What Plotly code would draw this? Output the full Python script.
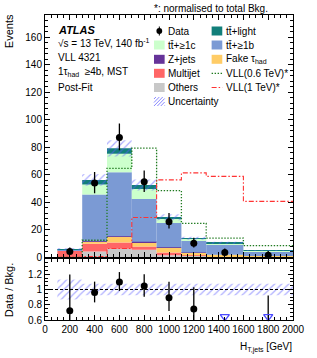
import plotly.graph_objects as go
import numpy as np

# ---------------- data ----------------
edges = [100, 300, 500, 700, 900, 1100, 1300, 1600, 2000]
others   = [0.2, 4.4, 6.3, 5.6, 1.7, 1.2, 0.5, 0.2]
multijet = [4.6, 5.6, 4.6, 2.4, 1.9, 0.4, 0.2, 0.1]
fake_tau = [0.1, 1.6, 4.2, 3.2, 3.7, 2.0, 1.2, 0.8]
zjets    = [0.0, 0.2, 0.3, 0.2, 0.1, 0.1, 0.0, 0.0]
tt_1b    = [0.8, 34.0, 46.4, 31.0, 17.6, 8.7, 7.8, 3.3]
tt_1c    = [0.2, 7.2, 13.4, 7.3, 3.0, 1.3, 0.8, 0.6]
tt_light = [0.2, 3.2, 4.0, 2.9, 1.2, 0.3, 0.2, 0.1]
unc_rel  = [0.13, 0.075, 0.075, 0.075, 0.075, 0.075, 0.075, 0.075]
data_x   = [200, 400, 600, 800, 1000, 1200, 1450, 1800]
data     = [4.4, 54, 87, 55, 26, 10.4, 3.6, 1.7]
data_up  = [2.9, 8.0, 10.3, 8.1, 6.2, 4.0, 3.0, 3.0]
data_dn  = [1.9, 7.3, 9.2, 7.4, 5.0, 3.2, 1.9, 1.3]
vll_06   = [0.0, 12.5, 64.7, 79.3, 48.5, 24.8, 14.1, 8.6]
vll_1    = [0.0, 0.7, 6.5, 29.0, 56.3, 61.4, 58.9, 40.7]

x_ticks = list(range(0, 2001, 200))
y_ticks = list(range(0, 161, 20))
r_ticks = [0.6, 0.8, 1.0, 1.2]

# ---------------- geometry helpers ----------------
W, H = 317, 358
L, R, T, B = 45, 16, 15, 38
PW, PH = W - L - R, H - T - B
def px(x): return (x - L) / PW
def py(y): return (H - B - y) / PH

edges_a = np.array(edges, dtype=float)
centers = (edges_a[:-1] + edges_a[1:]) / 2
widths = np.diff(edges_a)

comps = [
    ("Others", others, "#c8c8c8"),
    ("Multijet", multijet, "#ff6666"),
    ("Fake", fake_tau, "#ffcc66"),
    ("Z+jets", zjets, "#663399"),
    ("tt1b", tt_1b, "#7b9ad4"),
    ("tt1c", tt_1c, "#ccffcc"),
    ("ttlight", tt_light, "#127f7a"),
]

DOT = "1.4px,1.6px"
DASHDOT = "5px,2px,1.5px,2px"

fig = go.Figure()
base = np.zeros(len(centers))
for name, vals, col in comps:
    v = np.array(vals, dtype=float)
    fig.add_trace(go.Bar(x=centers, y=v, base=base, width=widths,
                         marker=dict(color=col, line=dict(width=0)),
                         showlegend=False, xaxis="x", yaxis="y"))
    base = base + v
total = base
unc = total * np.array(unc_rel)

hatch = dict(shape="/", fgcolor="#5b5bff", bgcolor="rgba(0,0,0,0)", size=5, solidity=0.25)
fig.add_trace(go.Bar(x=centers, y=2 * unc, base=total - unc, width=widths,
                     marker=dict(color="rgba(0,0,0,0)", line=dict(width=0), pattern=hatch),
                     showlegend=False, xaxis="x", yaxis="y"))

# VLL step lines
fig.add_trace(go.Scatter(x=edges, y=vll_06 + [vll_06[-1]], mode="lines", line_shape="hv",
                         line=dict(color="#1f7a1f", dash=DOT, width=1.3),
                         showlegend=False, xaxis="x", yaxis="y"))
fig.add_trace(go.Scatter(x=edges, y=vll_1 + [vll_1[-1]], mode="lines", line_shape="hv",
                         line=dict(color="#ff3333", dash=DASHDOT, width=1.1),
                         showlegend=False, xaxis="x", yaxis="y"))

# data
fig.add_trace(go.Scatter(x=data_x, y=data, mode="markers",
                         marker=dict(color="black", size=7),
                         error_y=dict(type="data", array=data_up, arrayminus=data_dn,
                                      color="black", thickness=1.3, width=0),
                         showlegend=False, xaxis="x", yaxis="y"))

# ---------------- ratio ----------------
fig.add_trace(go.Bar(x=centers, y=2 * np.array(unc_rel), base=1 - np.array(unc_rel), width=widths,
                     marker=dict(color="rgba(0,0,0,0)", line=dict(width=0), pattern=hatch),
                     showlegend=False, xaxis="x2", yaxis="y2"))
ratio = np.array(data) / total
r_up = np.array(data_up) / total
r_dn = np.array(data_dn) / total
fig.add_trace(go.Scatter(x=data_x, y=ratio, mode="markers",
                         marker=dict(color="black", size=7),
                         error_y=dict(type="data", array=r_up, arrayminus=r_dn,
                                      color="black", thickness=1.3, width=0),
                         showlegend=False, xaxis="x2", yaxis="y2"))
low = ratio < 0.6
fig.add_trace(go.Scatter(x=np.array(data_x)[low], y=np.full(low.sum(), 0.645), mode="markers",
                         marker=dict(symbol="triangle-down-open", color="#4a4aff", size=8,
                                     line=dict(width=1.3)),
                         showlegend=False, xaxis="x2", yaxis="y2", cliponaxis=False))

font = dict(family="Liberation Sans, Arial, sans-serif", size=10, color="black")
axis_common = dict(showline=True, linecolor="black", linewidth=1, mirror="allticks",
                   ticks="inside", ticklen=5, tickcolor="black", showgrid=False,
                   zeroline=False, tickfont=font)

fig.update_layout(
    width=W, height=H, margin=dict(l=L, r=R, t=T, b=B),
    plot_bgcolor="white", paper_bgcolor="white", barmode="overlay",
    font=font, showlegend=False,
    xaxis=dict(axis_common, range=[0, 2000], tickvals=x_ticks, showticklabels=False,
               anchor="y", domain=[0, 1],
               minor=dict(ticks="inside", ticklen=3, dtick=50, tickcolor="black")),
    yaxis=dict(axis_common, range=[0, 176], tickvals=y_ticks, anchor="x", domain=[0.205, 1],
               minor=dict(ticks="inside", ticklen=3, dtick=4, tickcolor="black")),
    xaxis2=dict(axis_common, range=[0, 2000], tickvals=x_ticks, anchor="y2", domain=[0, 1],
                matches="x", minor=dict(ticks="inside", ticklen=3, dtick=50, tickcolor="black")),
    yaxis2=dict(axis_common, range=[0.6, 1.4], tickvals=r_ticks, ticktext=["0.6", "0.8", "1", "1.2"],
                anchor="x2", domain=[0, 0.2],
                minor=dict(ticks="inside", ticklen=3, dtick=0.05, tickcolor="black")),
)

shapes = []
ann = []
# ratio reference line
shapes.append(dict(type="line", xref="x2", yref="y2", x0=0, x1=2000, y0=1, y1=1,
                   line=dict(color="black", width=1, dash="3px,2px")))

def text(x, y, s, xanchor="left", size=10, **kw):
    ann.append(dict(xref="paper", yref="paper", x=px(x), y=py(y), text=s, showarrow=False,
                    xanchor=xanchor, yanchor="middle", font=dict(font, size=size), **kw))

# header texts
text(155, 8, "*: normalised to total Bkg.", size=10)
text(56, 30, "<b><i>ATLAS</i></b>", size=11)
text(56, 43.5, "√s = 13 TeV, 140 fb<sup>-1</sup>")
text(56, 57.5, "VLL 4321")
text(56, 72, "1τ<sub>had</sub>  ≥4b, MST")
text(56, 87.5, "Post-Fit")

# axis titles
ann.append(dict(xref="paper", yref="paper", x=px(8), y=py(12), text="Events", showarrow=False,
                textangle=-90, xanchor="center", yanchor="top", font=dict(font, size=11)))
ann.append(dict(xref="paper", yref="paper", x=px(8), y=py(290), text="Data / Bkg.", showarrow=False,
                textangle=-90, xanchor="center", yanchor="middle", font=dict(font, size=11)))
ann.append(dict(xref="paper", yref="paper", x=px(302), y=py(347), text="H<sub>T,jets</sub> [GeV]",
                showarrow=False, xanchor="right", yanchor="middle", font=dict(font, size=10)))

# legend
rows = [31, 45, 59.3, 73.3, 87.5, 101.5]
c1b, c1t = 157.5, 170
c2b, c2t = 217, 230
def box(xl, yc, col):
    shapes.append(dict(type="rect", xref="paper", yref="paper", x0=px(xl), x1=px(xl + 11),
                       y0=py(yc + 4.5), y1=py(yc - 4.5), fillcolor=col, line=dict(width=0)))

# Data
shapes.append(dict(type="circle", xref="paper", yref="paper", x0=px(160), x1=px(166),
                   y0=py(rows[0] + 3), y1=py(rows[0] - 3), fillcolor="black", line=dict(width=0)))
shapes.append(dict(type="line", xref="paper", yref="paper", x0=px(163), x1=px(163),
                   y0=py(rows[0] + 4.5), y1=py(rows[0] - 4.5), line=dict(color="black", width=1)))
text(c1t, rows[0], "Data")
box(c2b, rows[0], "#127f7a"); text(c2t, rows[0], "tt\u0304+light")
box(c1b, rows[1], "#ccffcc"); text(c1t, rows[1], "tt\u0304+≥1c")
box(c2b, rows[1], "#7b9ad4"); text(c2t, rows[1], "tt\u0304+≥1b")
box(c1b, rows[2], "#663399"); text(c1t, rows[2], "Z+jets")
box(c2b, rows[2], "#ffcc66"); text(c2t, rows[2], "Fake τ<sub>had</sub>")
box(c1b, rows[3], "#ff6666"); text(c1t, rows[3], "Multijet")
shapes.append(dict(type="line", xref="paper", yref="paper", x0=px(c2b), x1=px(c2b + 11),
                   y0=py(rows[3]), y1=py(rows[3]), line=dict(color="#1f7a1f", width=1.3, dash=DOT)))
text(c2t, rows[3], "VLL(0.6 TeV)*")
box(c1b, rows[4], "#c8c8c8"); text(c1t, rows[4], "Others")
shapes.append(dict(type="line", xref="paper", yref="paper", x0=px(c2b), x1=px(c2b + 11),
                   y0=py(rows[4]), y1=py(rows[4]), line=dict(color="#ff3333", width=1.1, dash=DASHDOT)))
text(c2t, rows[4], "VLL(1 TeV)*")
# uncertainty hatched box
yc = rows[5]
for k in range(-2, 4):
    x0 = c1b + 3.5 * k
    xa, ya, xb, yb = x0, yc + 4.5, x0 + 9, yc - 4.5
    if xa < c1b:
        ya -= (c1b - xa); xa = c1b
    if xb > c1b + 11:
        yb += (xb - (c1b + 11)); xb = c1b + 11
    if xb > xa:
        shapes.append(dict(type="line", xref="paper", yref="paper", x0=px(xa), x1=px(xb),
                           y0=py(ya), y1=py(yb), line=dict(color="#6a6aff", width=0.8)))
text(c1t, rows[5], "Uncertainty")

fig.update_layout(shapes=shapes, annotations=ann)
fig.write_html("out.html", config={"displayModeBar": False},
               post_script="document.body.style.margin='0';document.body.style.overflow='hidden';")
